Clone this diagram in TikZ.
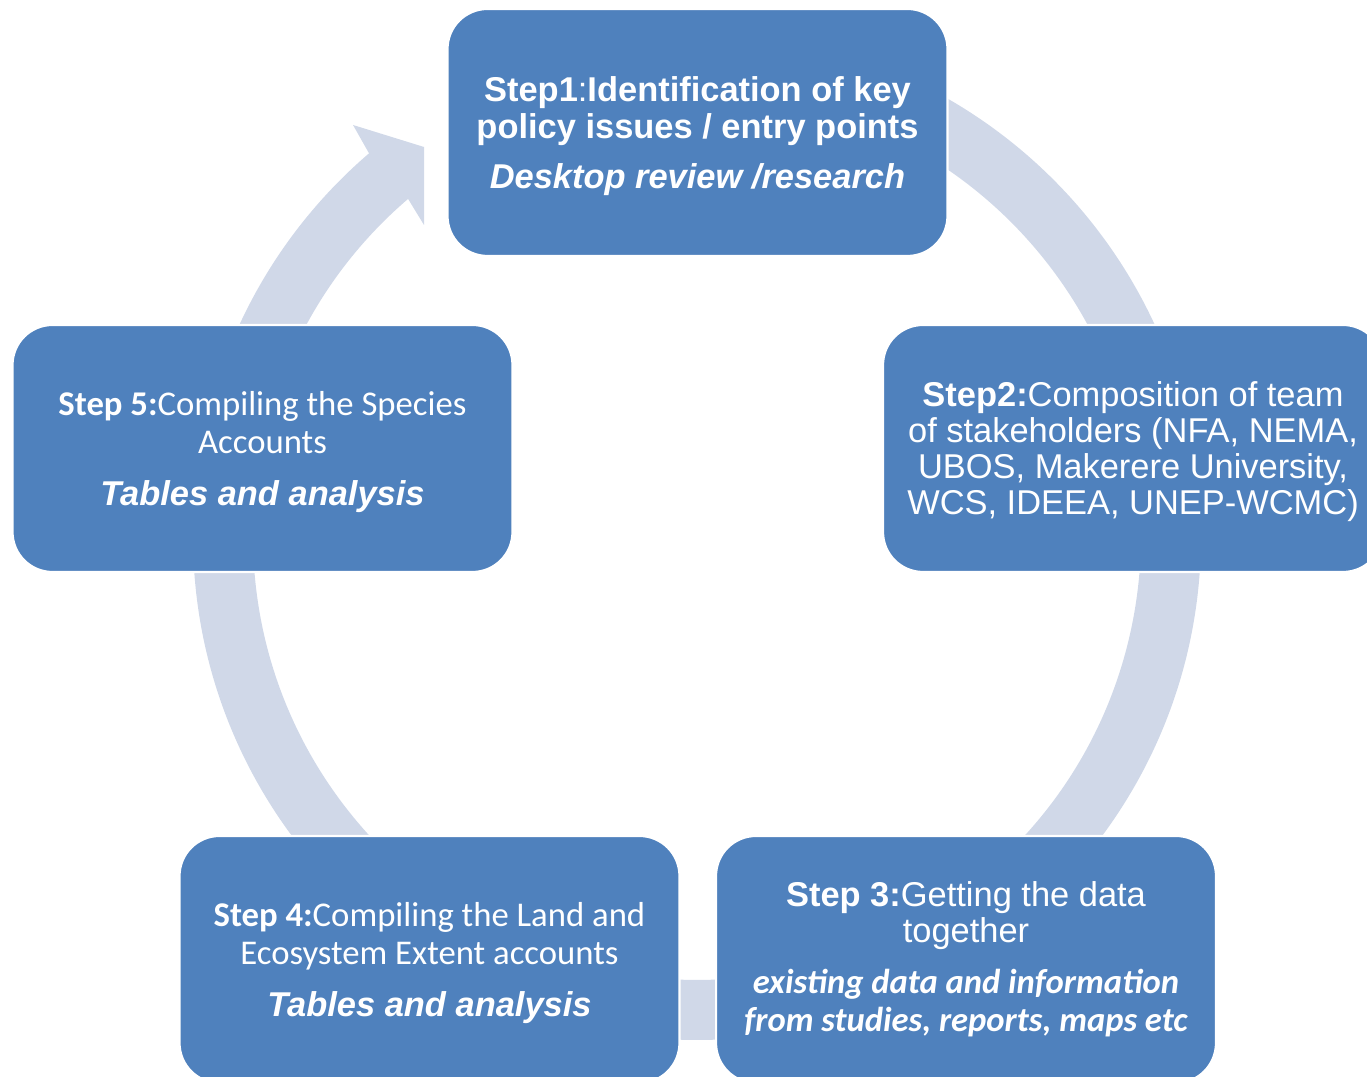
\documentclass[tikz,border=0pt]{standalone}
\usepackage{fontspec}
\setmainfont{Liberation Sans}
\newfontfamily\calibri{Carlito}
\usetikzlibrary{calc}
\definecolor{stepblue}{RGB}{79,129,189}
\definecolor{ringgray}{RGB}{208,216,232}
\newcommand{\hint}[1]{{\bfseries\itshape #1}}

\begin{document}
\begin{tikzpicture}[x=0.02cm,y=0.02cm,
  stepbox/.style={fill=stepblue,draw=white,line width=1.2pt,rounded corners=0.8cm,
    minimum width=10cm,minimum height=4.94cm,inner sep=0pt,align=center,text=white},
  arialtxt/.style={font=\fontsize{19.6}{20.5}\selectfont},
  calitxt/.style={font=\calibri\fontsize{19.75}{21.6}\selectfont},
  ring/.style={fill=ringgray}]
\useasboundingbox (0,0) rectangle (1367,1077);

% --- circular arrow ---------------------------------------------------
\coordinate (c) at (697,541);
\fill[ring] ($(c)+(90:504)$) arc[start angle=90,end angle=-229.4,radius=504]
  -- (353,952) -- (424,930) -- (424,852)
  -- ($(c)+(130.6:444)$) arc[start angle=-229.4,end angle=90,radius=444] -- cycle;

% --- steps ------------------------------------------------------------
\node[stepbox,text depth=0pt,font=\fontsize{19.6}{21}\selectfont\bfseries] (step1) at (697.5,944.5)
  {Step1{\mdseries:}Identification of key\\ policy issues / entry points\\[7.5pt]
   \hint{Desktop review /research}};
\node[stepbox,arialtxt,text depth=0pt] (step2) at (1133,628.5)
  {\textbf{Step2:}Composition of team\\ of stakeholders (NFA, NEMA,\\
   UBOS, Makerere University,\\ WCS, IDEEA, UNEP-WCMC)};
\node[stepbox,arialtxt] (step3) at (966,117.5)
  {\textbf{Step 3:}Getting the data\\ together\\[8.5pt]
   {\calibri\fontsize{19.7}{21.6}\selectfont\hint{existing data and information}}\\[1.1pt]
   {\calibri\fontsize{19.7}{21.6}\selectfont\hint{from studies, reports, maps etc}}};
\node[stepbox,calitxt,text depth=0pt] (step4) at (429.5,117.5)
  {\textbf{Step 4:}Compiling the Land and\\ Ecosystem Extent accounts\\[8.2pt]
   {\fontspec{Liberation Sans}\fontsize{19.6}{21.6}\selectfont\hint{Tables and analysis}}};
\node[stepbox,calitxt,text depth=0pt] (step5) at (262.5,628.5)
  {\textbf{Step 5:}Compiling the Species\\ Accounts\\[8.2pt]
   {\fontspec{Liberation Sans}\fontsize{19.6}{21.6}\selectfont\hint{Tables and analysis}}};
\end{tikzpicture}
\end{document}
